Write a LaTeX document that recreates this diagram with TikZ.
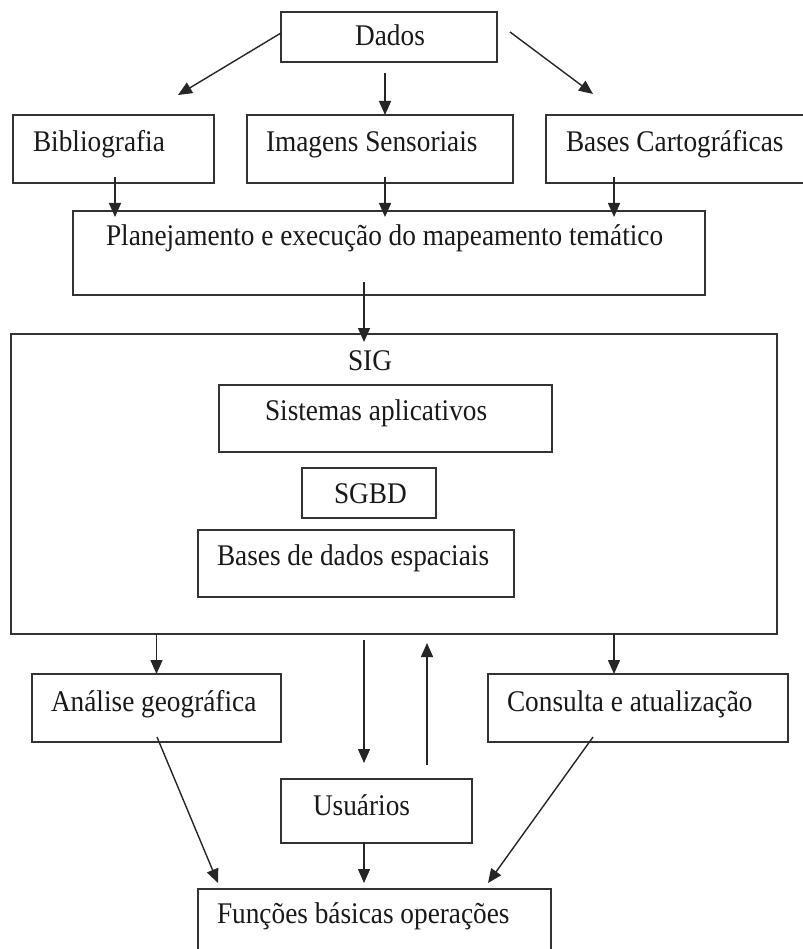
\documentclass[tikz,border=0pt]{standalone}
\usepackage{fontspec}
\setmainfont{Liberation Serif}[FakeStretch=0.91]
\usetikzlibrary{arrows.meta,calc}
\begin{document}
\begin{tikzpicture}[x=1pt,y=-1pt,
  box/.style={draw=black!80,line width=2pt,inner sep=0pt,outer sep=0pt},
  lbl/.style={font=\fontsize{30}{36}\selectfont,inner sep=0pt,outer sep=0pt,anchor=base west,text=black!90},
  arr/.style={draw=black!85,line width=1.4pt,-{Triangle[length=14pt,width=12pt]}}]
\useasboundingbox (0,0) rectangle (802,949);
% boxes
\node[box,minimum width=216pt,minimum height=50pt] (dados) at (389,37) {};
\node[box,minimum width=201pt,minimum height=68pt] (biblio) at (113.5,149) {};
\node[box,minimum width=266pt,minimum height=68pt] (imagens) at (380,149) {};
\node[box,minimum width=264pt,minimum height=68pt] (bases) at (678,149) {};
\node[box,minimum width=632pt,minimum height=84pt] (plan) at (389,253) {};
\node[box,minimum width=766pt,minimum height=300pt] (sig) at (394,484) {};
\node[box,minimum width=333pt,minimum height=67pt] (sist) at (385.5,418.5) {};
\node[box,minimum width=134pt,minimum height=50pt] (sgbd) at (369,493) {};
\node[box,minimum width=316pt,minimum height=67pt] (bdd) at (356,563.5) {};
\node[box,minimum width=249pt,minimum height=68pt] (analise) at (156.5,708) {};
\node[box,minimum width=300pt,minimum height=68pt] (consulta) at (638,708) {};
\node[box,minimum width=191pt,minimum height=64pt] (usuarios) at (376.5,811) {};
\node[box,minimum width=353pt,minimum height=81pt] (funcoes) at (374.5,929.5) {};
% texts
\node[lbl,anchor=base] (dados-t) at (390,46) {Dados};
\node[lbl] (biblio-t) at (33,152) {Bibliografia};
\node[lbl] (imagens-t) at (266,152) {Imagens Sensoriais};
\node[lbl] (bases-t) at (566,152) {Bases Cartográficas};
\node[lbl] (plan-t) at (106,246) {Planejamento e execução do mapeamento temático};
\node[lbl,anchor=base] (sig-t) at (370,370) {SIG};
\node[lbl] (sist-t) at (265,420) {Sistemas aplicativos};
\node[lbl] (sgbd-t) at (334,503) {SGBD};
\node[lbl] (bdd-t) at (217,565) {Bases de dados espaciais};
\node[lbl] (analise-t) at (51,711) {Análise geográfica};
\node[lbl] (consulta-t) at (507,711) {Consulta e atualização};
\node[lbl] (usuarios-t) at (313,815) {Usuários};
\node[lbl] (funcoes-t) at (217,923) {Funções básicas operações};
% free ends
\coordinate (e1) at (178,95);
\coordinate (e3) at (593,94);
% connectors
\draw[arr] ([yshift=4pt]dados.west) -- (e1);
\draw[arr] ($(dados.south)+(-4,11)$) -- ($(imagens.north)+(5,0)$);
\draw[arr] ($(dados.east)+(13,-5)$) -- (e3);
\draw[arr] ($(biblio.south)+(1.5,-6)$) -- ($(plan.north)+(-274,6)$);
\draw[arr] ($(imagens.south)+(5,-6)$) -- ($(plan.north)+(-4,6)$);
\draw[arr] ($(bases.south)+(-64,-6)$) -- ($(plan.north)+(225,6)$);
\draw[arr] ($(plan.south)+(-25,-13)$) -- ($(sig.north)+(-30,8)$);
\draw[arr] (analise.north |- sig.south) -- (analise.north);
\draw[arr] ($(sig.south)+(220,0)$) -- ($(consulta.north)+(-24,0)$);
\draw[arr] ($(sig.south)+(-30,6)$) -- ($(usuarios.north)+(-12.5,-16)$);
\draw[arr] ($(usuarios.north)+(50.5,-14)$) -- ($(sig.south)+(33,9)$);
\draw[arr] ($(analise.south)+(0.5,-5)$) -- ($(funcoes.north)+(-156.5,-6)$);
\draw[arr] ($(consulta.south)+(-45,-5)$) -- ($(funcoes.north)+(113.5,-6)$);
\draw[arr] ($(usuarios.south)+(-12.5,-1)$) -- ($(funcoes.north)+(-10.5,-6)$);
\end{tikzpicture}
\end{document}
